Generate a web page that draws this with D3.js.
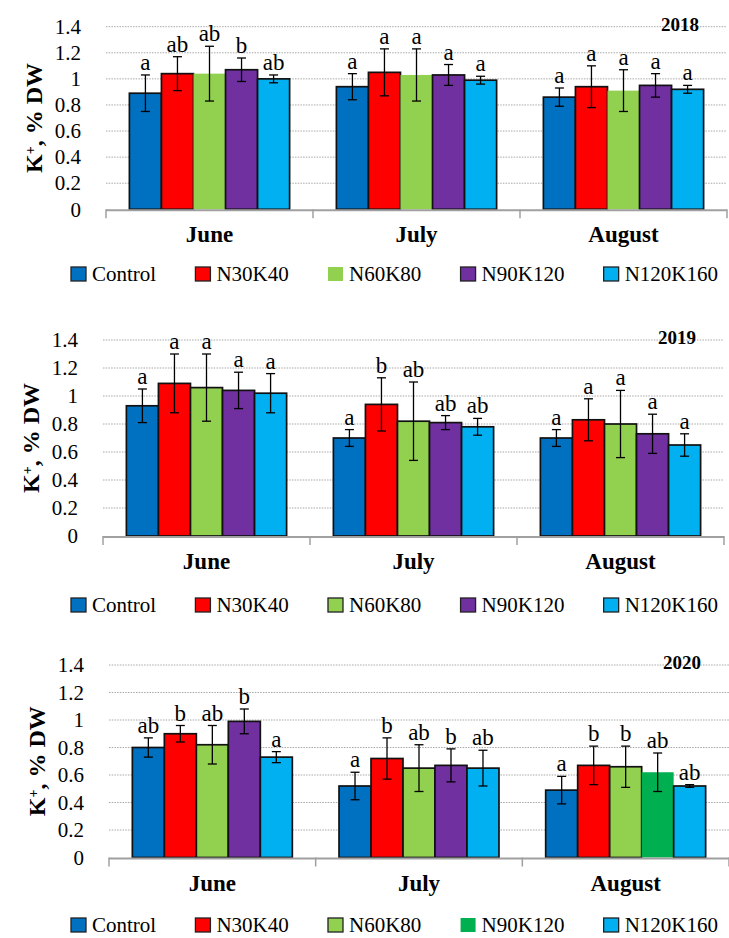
<!DOCTYPE html>
<html>
<head>
<meta charset="utf-8">
<script src="https://cdn.jsdelivr.net/npm/d3@7"></script>
<style>
  html, body { margin: 0; padding: 0; background: #fff; }
  svg { display: block; }
  text { font-family: "Liberation Serif", "Times New Roman", serif; fill: #000; }
</style>
</head>
<body>
<svg id="chart" width="729" height="938"></svg>
<script>
// ---- data ----
const months = ["June", "July", "August"];
const treatments = ["Control", "N30K40", "N60K80", "N90K120", "N120K160"];
const years = ["2018", "2019", "2020"];
const yTicks = [0, 0.2, 0.4, 0.6, 0.8, 1, 1.2, 1.4];

// K+ content (% DW), rows = months, columns = treatments
const k2018 = [
  [0.89, 1.04, 1.04, 1.07, 1.00],
  [0.94, 1.05, 1.03, 1.03, 0.99],
  [0.86, 0.94, 0.91, 0.95, 0.92]
];
const err2018 = [
  [0.14, 0.13, 0.21, 0.09, 0.03],
  [0.10, 0.18, 0.20, 0.08, 0.03],
  [0.07, 0.16, 0.16, 0.09, 0.03]
];
const sig2018 = [
  ["a", "ab", "ab", "b", "ab"],
  ["a", "a", "a", "a", "a"],
  ["a", "a", "a", "a", "a"]
];

const k2019 = [
  [0.93, 1.09, 1.06, 1.04, 1.02],
  [0.70, 0.94, 0.82, 0.81, 0.78],
  [0.70, 0.83, 0.80, 0.73, 0.65]
];
const err2019 = [
  [0.12, 0.21, 0.24, 0.13, 0.14],
  [0.06, 0.19, 0.28, 0.05, 0.06],
  [0.06, 0.15, 0.24, 0.14, 0.08]
];
const sig2019 = [
  ["a", "a", "a", "a", "a"],
  ["a", "b", "ab", "ab", "ab"],
  ["a", "a", "a", "a", "a"]
];

const k2020 = [
  [0.80, 0.90, 0.82, 0.99, 0.73],
  [0.52, 0.72, 0.65, 0.67, 0.65],
  [0.49, 0.67, 0.66, 0.62, 0.52]
];
const err2020 = [
  [0.07, 0.06, 0.14, 0.09, 0.04],
  [0.10, 0.15, 0.17, 0.12, 0.13],
  [0.10, 0.14, 0.15, 0.14, 0.01]
];
const sig2020 = [
  ["ab", "b", "ab", "b", "a"],
  ["a", "b", "ab", "b", "ab"],
  ["a", "b", "b", "ab", "ab"]
];

// ---- styling ----
const seriesColors = ["#0070C0", "#FF0000", "#92D050", "#7030A0", "#00B0F0"];
const altGreen = "#00B050";
const outline = "#111";
const serif = "'Liberation Serif', 'Times New Roman', serif";

// per-panel fill / outline of a single bar (or legend swatch when m === null)
function barStyle(p, m, t) {
  let fill = seriesColors[t];
  let stroke = outline;
  if (p === 0 && t === 2) stroke = "none";                 // 2018: N60K80 drawn without outline
  if (p === 2 && t === 3 && (m === 2 || m === null)) {    // 2020: N90K120 in August
    fill = altGreen;
    stroke = "none";
  }
  return { fill, stroke };
}

// ---- layout ----
const panels = [
  { year: years[0], mean: k2018, err: err2018, sig: sig2018, top: 26.7, bottom: 209.3, left: 106, right: 727, legendY: 274 },
  { year: years[1], mean: k2019, err: err2019, sig: sig2019, top: 340,  bottom: 536,   left: 103, right: 724, legendY: 605 },
  { year: years[2], mean: k2020, err: err2020, sig: sig2020, top: 665,  bottom: 857.5, left: 109, right: 729, legendY: 925 }
];

const svg = d3.select("#chart");

panels.forEach((P, pi) => {
  const g = svg.append("g");

  const y = d3.scaleLinear().domain([0, 1.4]).range([P.bottom, P.top]);
  const x0 = d3.scaleBand().domain(months).range([P.left, P.right]).paddingInner(0).paddingOuter(0);
  const x1 = d3.scaleBand().domain(treatments).range([0, x0.bandwidth()]).paddingInner(0).paddingOuter(0.73);

  // dotted horizontal gridlines
  g.append("g").selectAll("line")
    .data(yTicks.filter(v => v > 0))
    .join("line")
    .attr("x1", P.left).attr("x2", P.right)
    .attr("y1", d => y(d)).attr("y2", d => y(d))
    .attr("stroke", "#a8a8a8")
    .attr("stroke-width", 1)
    .attr("stroke-dasharray", "1.5,1.2");

  // y-axis tick labels
  const yAxis = d3.axisLeft(y).tickValues(yTicks).tickSize(0).tickPadding(25)
    .tickFormat(d3.format(""));
  const ya = g.append("g").attr("transform", `translate(${P.left},0)`).call(yAxis);
  ya.attr("font-family", null).attr("font-size", null);
  ya.select(".domain").remove();
  ya.selectAll("text")
    .style("font-family", serif)
    .style("font-size", "21px")
    .attr("fill", "#000");

  // y-axis title
  const ty = g.append("text")
    .attr("transform", `translate(${P.left - 72},${(P.top + P.bottom) / 2}) rotate(-90)`)
    .attr("text-anchor", "middle")
    .attr("dy", "0.35em")
    .style("font-family", serif)
    .style("font-size", "24px")
    .style("font-weight", "bold");
  ty.append("tspan").text("K");
  ty.append("tspan").text("+").attr("baseline-shift", "super").style("font-size", "14px");
  ty.append("tspan").text(", % DW");

  // bars
  months.forEach((mo, mi) => {
    const grp = g.append("g").attr("transform", `translate(${x0(mo)},0)`);
    treatments.forEach((tr, ti) => {
      const v = P.mean[mi][ti];
      const s = barStyle(pi, mi, ti);
      grp.append("rect")
        .attr("x", x1(tr))
        .attr("y", y(v))
        .attr("width", x1.bandwidth())
        .attr("height", y(0) - y(v))
        .attr("fill", s.fill)
        .attr("stroke", s.stroke)
        .attr("stroke-width", 1.7);
    });
  });

  // x axis line with category boundary ticks
  g.append("line")
    .attr("x1", P.left).attr("x2", P.right)
    .attr("y1", y(0) + 1).attr("y2", y(0) + 1)
    .attr("stroke", "#a0a0a0").attr("stroke-width", 2);
  const bounds = months.map(m => x0(m)).concat([x0.range()[1]]);
  g.append("g").selectAll("line")
    .data(bounds)
    .join("line")
    .attr("x1", d => d).attr("x2", d => d)
    .attr("y1", y(0)).attr("y2", y(0) + 9)
    .attr("stroke", "#a0a0a0").attr("stroke-width", 1.5);

  // error bars and significance letters
  months.forEach((mo, mi) => {
    const grp = g.append("g").attr("transform", `translate(${x0(mo)},0)`);
    treatments.forEach((tr, ti) => {
      const v = P.mean[mi][ti];
      const e = P.err[mi][ti];
      const cx = x1(tr) + x1.bandwidth() / 2;
      const hi = y(v + e), lo = y(v - e);
      grp.append("line").attr("x1", cx).attr("x2", cx).attr("y1", hi).attr("y2", lo)
        .attr("stroke", "#000").attr("stroke-width", 1.3);
      [hi, lo].forEach(yy => {
        grp.append("line").attr("x1", cx - 4.5).attr("x2", cx + 4.5).attr("y1", yy).attr("y2", yy)
          .attr("stroke", "#000").attr("stroke-width", 1.3);
      });
      grp.append("text")
        .attr("x", cx)
        .attr("y", hi - 5)
        .attr("text-anchor", "middle")
        .style("font-family", serif)
        .style("font-size", "23px")
        .text(P.sig[mi][ti]);
    });
  });

  // month labels
  g.append("g").selectAll("text")
    .data(months)
    .join("text")
    .attr("x", d => x0(d) + x0.bandwidth() / 2)
    .attr("y", y(0) + 33)
    .attr("text-anchor", "middle")
    .style("font-family", serif)
    .style("font-size", "23px")
    .style("font-weight", "bold")
    .text(d => d);

  // year tag
  g.append("text")
    .attr("x", P.right - 28)
    .attr("y", P.top + 4)
    .attr("text-anchor", "end")
    .style("font-family", serif)
    .style("font-size", "19px")
    .style("font-weight", "bold")
    .text(P.year);

  // legend
  const lg = g.append("g");
  const sw = 15, gapText = 6;
  const items = treatments.map((tr, ti) => {
    const it = lg.append("g");
    const s = barStyle(pi, null, ti);
    it.append("rect")
      .attr("width", sw).attr("height", 14)
      .attr("y", -7)
      .attr("fill", s.fill)
      .attr("stroke", s.stroke === "none" ? "none" : "#222")
      .attr("stroke-width", 1.3);
    const t = it.append("text")
      .attr("x", sw + gapText)
      .attr("dy", "0.34em")
      .style("font-family", serif)
      .style("font-size", "21px")
      .text(tr);
    return { node: it, w: sw + gapText + t.node().getComputedTextLength() };
  });
  const startX = 71, endX = 718;
  const total = d3.sum(items, d => d.w);
  const gap = (endX - startX - total) / (items.length - 1);
  let cur = startX;
  items.forEach(it => {
    it.node.attr("transform", `translate(${cur},${P.legendY})`);
    cur += it.w + gap;
  });
});
</script>
</body>
</html>
